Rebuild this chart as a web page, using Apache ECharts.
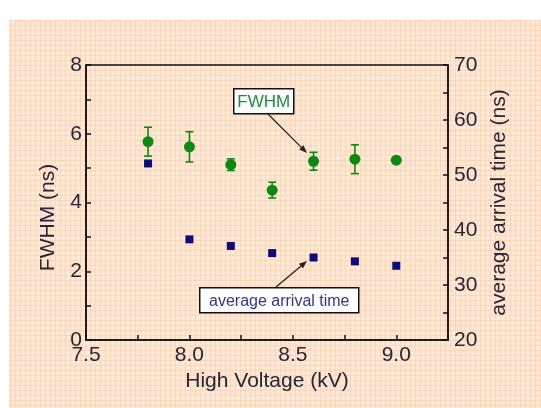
<!DOCTYPE html>
<html>
<head>
<meta charset="utf-8">
<title>FWHM and arrival time</title>
<script src="https://cdn.jsdelivr.net/npm/echarts@6/dist/echarts.min.js"></script>
<style>
  html, body { margin: 0; padding: 0; background: #fff; }
  #main { width: 541px; height: 408px; }
</style>
</head>
<body>
<div id="main"></div>
<script>
// high voltage (kV)
var voltage = [7.8, 8.0, 8.2, 8.4, 8.6, 8.8, 9.0];
// FWHM (ns) and its error
var fwhm = [5.77, 5.62, 5.10, 4.36, 5.20, 5.26, 5.23];
var fwhmErr = [0.42, 0.44, 0.17, 0.23, 0.26, 0.42, 0.08];
// average arrival time (ns)
var arrival = [52.1, 38.3, 37.1, 35.8, 35.0, 34.3, 33.5];

var xTicks = ['7.5', '8.0', '8.5', '9.0'];
var leftTicks = ['0', '2', '4', '6', '8'];
var rightTicks = ['20', '30', '40', '50', '60', '70'];

var txt = '#25253a';
var green = '#0b8a12';
var navy = '#0c0c7a';
var font = '"Liberation Sans", Arial, sans-serif';

// graph paper pattern for the background
function paper() {
  var c = document.createElement('canvas');
  c.width = 5; c.height = 5;
  var g = c.getContext('2d');
  g.fillStyle = '#fee8d6';
  g.fillRect(0, 0, 5, 5);
  g.fillStyle = '#fdd6b7';
  g.fillRect(0, 0, 5, 1);
  g.fillRect(0, 0, 1, 5);
  return c;
}

var fwhmData = voltage.map(function (v, i) { return [v, fwhm[i], fwhmErr[i]]; });
var arrData = voltage.map(function (v, i) { return [v, arrival[i]]; });

function errorBar(params, api) {
  var x = api.value(0), y = api.value(1), e = api.value(2);
  var hi = api.coord([x, y + e]);
  var lo = api.coord([x, y - e]);
  var hw = 4;
  var st = { stroke: green, lineWidth: 1.6 };
  return {
    type: 'group',
    children: [
      { type: 'line', shape: { x1: hi[0], y1: hi[1], x2: lo[0], y2: lo[1] }, style: st },
      { type: 'line', shape: { x1: hi[0] - hw, y1: hi[1], x2: hi[0] + hw, y2: hi[1] }, style: st },
      { type: 'line', shape: { x1: lo[0] - hw, y1: lo[1], x2: lo[0] + hw, y2: lo[1] }, style: st }
    ]
  };
}

function arrow(x1, y1, x2, y2) {
  var a = Math.atan2(y2 - y1, x2 - x1);
  var L = 8, W = 3;
  var bx = x2 - L * Math.cos(a), by = y2 - L * Math.sin(a);
  var px = -Math.sin(a) * W, py = Math.cos(a) * W;
  return [
    { type: 'line', z: 20, shape: { x1: x1, y1: y1, x2: bx, y2: by }, style: { stroke: '#222', lineWidth: 1.3 } },
    { type: 'polygon', z: 20, shape: { points: [[x2, y2], [bx + px, by + py], [bx - px, by - py]] }, style: { fill: '#222' } }
  ];
}

function label(text, x, y, w, h, color, size) {
  return {
    type: 'group', z: 20, left: x, top: y,
    children: [
      { type: 'rect', shape: { x: 0, y: 0, width: w, height: h }, style: { fill: '#fff', stroke: '#111', lineWidth: 1.5 } },
      { type: 'text', x: w / 2, y: h / 2 + 1, style: { text: text, fill: color, font: size + 'px ' + font, align: 'center', verticalAlign: 'middle' } }
    ]
  };
}

function pick(list) {
  return function (v) {
    var r = Math.round(v * 100) / 100;
    for (var i = 0; i < list.length; i++) {
      if (parseFloat(list[i]) === r) return list[i];
    }
    return '';
  };
}

var chart = echarts.init(document.getElementById('main'));

var graphics = [
  { type: 'rect', z: -10, silent: true, shape: { x: 9, y: 20, width: 532, height: 388 },
    style: { fill: { image: paper(), repeat: 'repeat' } } },
  label('FWHM', 233, 88, 60, 25, '#1b8d3c', 17),
  label('average arrival time', 199, 287, 159, 25, '#34348a', 16)
].concat(arrow(267, 113, 307, 153)).concat(arrow(276, 287, 307, 261));

chart.setOption({
  backgroundColor: '#fff',
  animation: false,
  textStyle: { fontFamily: font },
  grid: { left: 86, right: 93, top: 65, bottom: 68, show: true, borderColor: '#111', borderWidth: 1.5, backgroundColor: 'transparent' },
  graphic: graphics,
  xAxis: {
    type: 'value', min: 7.5, max: 9.25, interval: 0.25,
    name: 'High Voltage (kV)', nameLocation: 'middle', nameGap: 31,
    nameTextStyle: { color: txt, fontSize: 21 },
    axisLine: { lineStyle: { color: '#111', width: 1.5 } },
    axisTick: { inside: true, length: 5, lineStyle: { color: '#111', width: 1.5 } },
    axisLabel: { color: txt, fontSize: 21, margin: 5, formatter: pick(xTicks) },
    splitLine: { show: false }
  },
  yAxis: [
    {
      type: 'value', min: 0, max: 8, interval: 1, position: 'left',
      name: 'FWHM (ns)', nameLocation: 'middle', nameGap: 27,
      nameTextStyle: { color: txt, fontSize: 21, padding: [0, 30, 0, 0] },
      axisLine: { show: true, lineStyle: { color: '#111', width: 1.5 } },
      axisTick: { show: true, inside: true, length: 5, lineStyle: { color: '#111', width: 1.5 } },
      axisLabel: { color: txt, fontSize: 21, margin: 4, formatter: pick(leftTicks) },
      splitLine: { show: false }
    },
    {
      type: 'value', min: 20, max: 70, interval: 5, position: 'right',
      name: 'average arrival time (ns)', nameLocation: 'middle', nameGap: 40,
      nameTextStyle: { color: txt, fontSize: 21 },
      axisLine: { show: true, lineStyle: { color: '#111', width: 1.5 } },
      axisTick: { show: true, inside: true, length: 5, lineStyle: { color: '#111', width: 1.5 } },
      axisLabel: { color: txt, fontSize: 21, margin: 6, formatter: pick(rightTicks) },
      splitLine: { show: false }
    }
  ],
  series: [
    {
      type: 'custom', name: 'FWHM err', yAxisIndex: 0,
      renderItem: errorBar, data: fwhmData, z: 3,
      encode: { x: 0, y: [1, 2] }
    },
    {
      type: 'scatter', name: 'FWHM', yAxisIndex: 0,
      data: fwhmData.map(function (d) { return [d[0], d[1]]; }),
      symbol: 'circle', symbolSize: 11, itemStyle: { color: green, opacity: 1 }, z: 4
    },
    {
      type: 'scatter', name: 'average arrival time', yAxisIndex: 1,
      data: arrData, symbol: 'rect', symbolSize: 8,
      itemStyle: { color: navy, opacity: 1 }, z: 4
    }
  ]
});
</script>
</body>
</html>
